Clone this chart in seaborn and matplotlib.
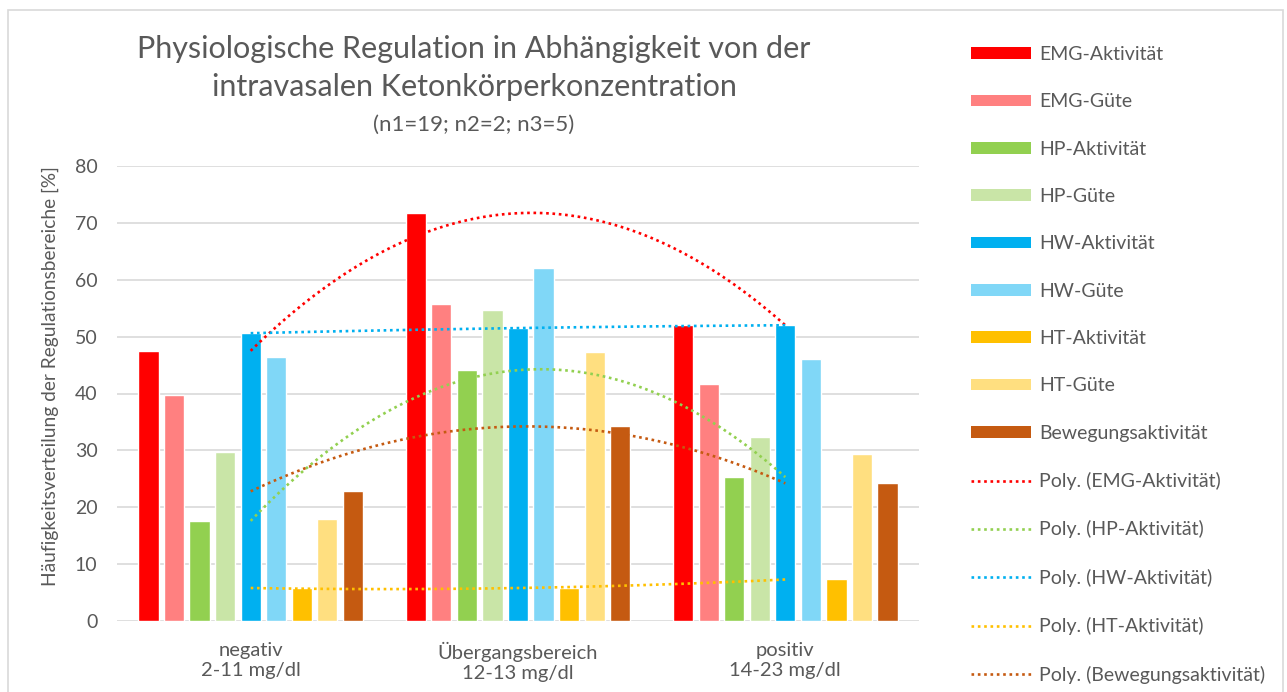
import numpy as np
import pandas as pd
import matplotlib
matplotlib.use("Agg")
from matplotlib import pyplot as plt
from matplotlib.patches import Patch, Rectangle
import seaborn as sns

# --- Daten ---
kategorien = ["negativ\n2-11 mg/dl", "Übergangsbereich\n12-13 mg/dl", "positiv\n14-23 mg/dl"]
reihen = ["EMG-Aktivität", "EMG-Güte", "HP-Aktivität", "HP-Güte", "HW-Aktivität",
          "HW-Güte", "HT-Aktivität", "HT-Güte", "Bewegungsaktivität"]

emg_aktivitaet = [47.5, 71.7, 52.0]
emg_guete = [39.8, 55.7, 41.6]
hp_aktivitaet = [17.6, 44.1, 25.3]
hp_guete = [29.8, 54.7, 32.4]
hw_aktivitaet = [50.6, 51.5, 52.0]
hw_guete = [46.4, 62.0, 46.0]
ht_aktivitaet = [5.8, 5.8, 7.3]
ht_guete = [17.9, 47.3, 29.4]
bewegung = [22.8, 34.2, 24.2]

werte = [emg_aktivitaet, emg_guete, hp_aktivitaet, hp_guete, hw_aktivitaet,
         hw_guete, ht_aktivitaet, ht_guete, bewegung]

farben = ["#FF0000", "#FF8080", "#92D050", "#C9E5A7", "#00B0F0",
          "#80D7F7", "#FFC000", "#FFDF80", "#C55A11"]

# Reihen mit polynomischer Trendlinie (Ordnung 2)
trend_reihen = ["EMG-Aktivität", "HP-Aktivität", "HW-Aktivität", "HT-Aktivität", "Bewegungsaktivität"]

grau = "#595959"

sns.set_style("white")
plt.rcParams["font.family"] = ["Lato", "DejaVu Sans"]

df = pd.DataFrame({
    "kategorie": np.repeat([kategorien], len(reihen), axis=0).ravel(),
    "reihe": np.repeat(reihen, len(kategorien)),
    "wert": np.concatenate(werte),
})
palette = dict(zip(reihen, farben))

fig = plt.figure(figsize=(12.87, 6.92), dpi=100)
ax = fig.add_axes([117 / 1287, 1 - 621 / 692, 802 / 1287, 455 / 692])

sns.barplot(data=df, x="kategorie", y="wert", hue="reihe", order=kategorien,
            hue_order=reihen, palette=palette, saturation=1, width=0.86, gap=0.21,
            errorbar=None, legend=False, ax=ax, zorder=2)

pos = np.arange(len(kategorien))
for name in trend_reihen:
    i = reihen.index(name)
    sns.regplot(x=pos, y=werte[i], order=2, ci=None, scatter=False, truncate=True,
                label=f"Poly. ({name})", ax=ax,
                line_kws=dict(color=farben[i], lw=1.9, ls=(0, (1, 1.4)), zorder=3))

ax.set_xlim(-0.5, 2.5)
ax.set_ylim(0, 80)
ax.set_yticks(range(0, 81, 10))
ax.set_xticks(pos)
ax.set_xticklabels(kategorien)
ax.set_xlabel("")
ax.set_ylabel("")
ax.set_axisbelow(True)
ax.yaxis.grid(True, color="#D9D9D9", lw=1.2)
ax.xaxis.grid(False)
for s in ax.spines.values():
    s.set_visible(False)
ax.tick_params(axis="y", length=0, pad=14, labelsize=14, labelcolor=grau)
ax.tick_params(axis="x", length=0, pad=15, labelsize=14.5, labelcolor=grau)

fig.text(50 / 1287, 1 - 376 / 692, "Häufigkeitsverteilung der Regulationsbereiche [%]",
         rotation=90, ha="center", va="center", fontsize=13.8, color=grau)

# Titel
tx = 474 / 1287
fig.text(tx, 1 - 49 / 692, "Physiologische Regulation in Abhängigkeit von der",
         ha="center", va="center", fontsize=22, color=grau)
fig.text(tx, 1 - 87 / 692, "intravasalen Ketonkörperkonzentration",
         ha="center", va="center", fontsize=22, color=grau)
fig.text(tx, 1 - 125 / 692, "(n1=19; n2=2; n3=5)",
         ha="center", va="center", fontsize=16, color=grau)

# Legende
handles = [Patch(facecolor=c, edgecolor="none", label=n) for n, c in zip(reihen, farben)]
handles += list(ax.lines)
labels = [h.get_label() for h in handles]
leg = fig.legend(handles, labels, loc="upper left",
                 bbox_to_anchor=(971 / 1287, 1 - 46 / 692), bbox_transform=fig.transFigure,
                 frameon=False, fontsize=14, labelcolor=grau, handlelength=3.1,
                 handleheight=0.55, handletextpad=0.41, labelspacing=1.56,
                 borderpad=0, borderaxespad=0)

# Rahmen
fig.patches.append(Rectangle((8 / 1287, -0.05), 1275 / 1287, 1.05 - 10 / 692,
                             transform=fig.transFigure, fill=False,
                             ec="#D9D9D9", lw=1.2))

fig.savefig("out.png", dpi=100)
